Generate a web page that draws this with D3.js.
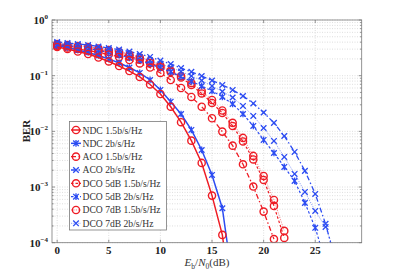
<!DOCTYPE html>
<html><head><meta charset="utf-8">
<script src="https://cdn.jsdelivr.net/npm/d3@7"></script>
<style>
html,body{margin:0;padding:0;background:#fff;}
svg{display:block;}
text{font-family:"Liberation Serif","DejaVu Serif",serif;}
</style></head>
<body>
<script>
// ---- data ----
const ebn0 = [0,1,2,3,4,5,6,7,8,9,10,11,12,13,14,15,16,17,18,19,20,21,22,23,24,25,26,27];
const ndc15 = [0.328,0.302,0.272,0.245,0.212,0.180,0.149,0.121,0.0948,0.0695,0.0469,0.0277,0.0146,0.00681,0.00271,0.000701,0.000138,6e-6];
const ndc2 = [0.348,0.321,0.289,0.261,0.231,0.200,0.169,0.140,0.112,0.0837,0.0554,0.0341,0.0205,0.0106,0.00463,0.00165,0.000416,2e-5];
const aco15 = [0.341,0.321,0.302,0.283,0.261,0.240,0.217,0.191,0.166,0.140,0.112,0.0837,0.0601,0.0415,0.0277,0.0172,0.00989,0.00554,0.00256,0.00102,0.000362,0.000116];
const aco2 = [0.403,0.386,0.371,0.356,0.334,0.314,0.295,0.272,0.245,0.217,0.187,0.162,0.137,0.117,0.0988,0.0820,0.0681,0.0554,0.0432,0.0317,0.0218,0.0142,0.00826,0.00427,0.00195,0.000752,0.000218,4.5e-5];
const dco5_15 = [0.356,0.341,0.328,0.308,0.289,0.266,0.245,0.221,0.195,0.169,0.143,0.117,0.0929,0.0681,0.0479,0.0324,0.0214,0.0125,0.00659,0.00313,0.00134,0.000458,0.000122];
const dco5_2 = [0.363,0.348,0.328,0.308,0.283,0.261,0.235,0.208,0.187,0.162,0.137,0.117,0.0968,0.0787,0.0653,0.0531,0.0415,0.0310,0.0205,0.0125,0.00701,0.00409,0.00230,0.00129,0.000519,0.000185,4.5e-5];
const dco7_15 = [0.371,0.356,0.341,0.328,0.308,0.289,0.266,0.240,0.212,0.184,0.152,0.124,0.0988,0.0740,0.0531,0.0366,0.0237,0.0142,0.00762,0.00362,0.00158,0.000586,0.000163];
const dco7_2 = [0.386,0.371,0.356,0.334,0.314,0.295,0.272,0.245,0.217,0.187,0.162,0.140,0.119,0.0988,0.0820,0.0653,0.0520,0.0406,0.0286,0.0189,0.0115,0.00673,0.00347,0.00172,0.000817,0.000372,0.000192,5.8e-5];
const xTicks = [0,5,10,15,20,25];
const yTickExps = [0,-1,-2,-3,-4];
const legendLabels = ["NDC 1.5b/s/Hz","NDC 2b/s/Hz","ACO 1.5b/s/Hz","ACO 2b/s/Hz","DCO 5dB 1.5b/s/Hz","DCO 5dB 2b/s/Hz","DCO 7dB 1.5b/s/Hz","DCO 7dB 2b/s/Hz"];

const RED = "#ee1c25", BLUE = "#2c4cf2";
const series = [
  {name:legendLabels[0], data:ndc15, color:RED, marker:"o", dash:null, w:1.5},
  {name:legendLabels[1], data:ndc2, color:BLUE, marker:"*", dash:null, w:1.5},
  {name:legendLabels[2], data:aco15, color:RED, marker:"o", dash:"5,2.5,1.5,2.5", w:1.3},
  {name:legendLabels[3], data:aco2, color:BLUE, marker:"x", dash:"5,2.5,1.5,2.5", w:1.3},
  {name:legendLabels[4], data:dco5_15, color:RED, marker:"o", dash:"2.5,2", w:1.2},
  {name:legendLabels[5], data:dco5_2, color:BLUE, marker:"*", dash:"2.5,2", w:1.2},
  {name:legendLabels[6], data:dco7_15, color:RED, marker:"o", dash:"1.2,1.2", w:0.7},
  {name:legendLabels[7], data:dco7_2, color:BLUE, marker:"x", dash:"1.2,1.2", w:0.7}
];

const W = 399, H = 273;
const svg = d3.select("body").append("svg").attr("width", W).attr("height", H);
const L = 52, R = 361.7, T = 20, B = 242.7;
const x = d3.scaleLinear().domain([-0.5, 29.5]).range([L, R]);
const y = d3.scaleLog().domain([1e-4, 1]).range([B, T]);

// grid
const grid = svg.append("g").attr("stroke", "#c8c8c8").attr("stroke-width", 0.6).attr("stroke-dasharray", "1,1.5");
xTicks.concat([]).forEach(t => {
  grid.append("line").attr("x1", x(t)).attr("x2", x(t)).attr("y1", T).attr("y2", B);
});
const yMinor = [];
for (let e = -4; e < 0; e++) for (let m = 1; m <= 9; m++) yMinor.push(m * Math.pow(10, e));
yMinor.push(1);
yMinor.forEach(v => {
  grid.append("line").attr("x1", L).attr("x2", R).attr("y1", y(v)).attr("y2", y(v));
});

// clip
svg.append("clipPath").attr("id", "clip").append("rect").attr("x", L).attr("y", T).attr("width", R - L).attr("height", B - T);

const plot = svg.append("g").attr("clip-path", "url(#clip)");
const line = d3.line().x((d, i) => x(ebn0[i])).y(d => y(d));

function drawMarker(g, type, cx, cy, color, sw) {
  if (type === "o") {
    g.append("circle").attr("cx", cx).attr("cy", cy).attr("r", 3.6).attr("fill", "none").attr("stroke", color).attr("stroke-width", 1.4);
  } else {
    const s = 2.8;
    const p = `M${cx - s},${cy - s}L${cx + s},${cy + s}M${cx - s},${cy + s}L${cx + s},${cy - s}` + (type === "*" ? `M${cx},${cy - s * 1.2}L${cx},${cy + s * 1.2}` : "");
    g.append("path").attr("d", p).attr("stroke", color).attr("stroke-width", 1.3).attr("fill", "none");
  }
}

// draw order: light ones first
[6, 7, 4, 5, 2, 3, 1, 0].forEach(k => {
  const s = series[k];
  plot.append("path").datum(s.data).attr("d", line).attr("fill", "none")
    .attr("stroke", s.color).attr("stroke-width", s.w)
    .attr("stroke-dasharray", s.dash).attr("opacity", k >= 6 ? 0.75 : 1);
  const mg = plot.append("g");
  s.data.forEach((v, i) => {
    const px = x(ebn0[i]), py = y(v);
    if (py <= B + 4) drawMarker(mg, s.marker, px, py, s.color);
  });
});

// axes box
const ax = svg.append("g").attr("stroke", "#7a7a7a").attr("stroke-width", 0.8).attr("fill", "none");
ax.append("rect").attr("x", L).attr("y", T).attr("width", R - L).attr("height", B - T);
// ticks
xTicks.forEach(t => {
  ax.append("line").attr("x1", x(t)).attr("x2", x(t)).attr("y1", B).attr("y2", B - 3);
  ax.append("line").attr("x1", x(t)).attr("x2", x(t)).attr("y1", T).attr("y2", T + 3);
});
yMinor.forEach(v => {
  const major = Math.abs(Math.log10(v) - Math.round(Math.log10(v))) < 1e-9;
  const len = major ? 3 : 1.6;
  ax.append("line").attr("x1", L).attr("x2", L + len).attr("y1", y(v)).attr("y2", y(v));
  ax.append("line").attr("x1", R).attr("x2", R - len).attr("y1", y(v)).attr("y2", y(v));
});

// tick labels
const tl = svg.append("g").attr("font-weight", "bold").attr("fill", "#222");
xTicks.forEach(t => {
  tl.append("text").attr("x", x(t)).attr("y", 254).attr("text-anchor", "middle").attr("font-size", 11).text(t);
});
yTickExps.forEach(e => {
  const t = tl.append("text").attr("x", 48).attr("y", y(Math.pow(10, e)) + 4).attr("text-anchor", "end").attr("font-size", 11);
  t.append("tspan").text("10");
  t.append("tspan").attr("dy", -5).attr("font-size", 7).text(e === 0 ? "0" : "\u2212" + (-e));
});

// axis labels
svg.append("text").attr("transform", "translate(30,131) rotate(-90)").attr("text-anchor", "middle")
  .attr("font-size", 11).attr("font-weight", "bold").attr("fill", "#222").text("BER");
const xl = svg.append("text").attr("x", 207).attr("y", 266).attr("text-anchor", "middle").attr("font-size", 11).attr("fill", "#333");
xl.append("tspan").attr("font-style", "italic").text("E");
xl.append("tspan").attr("font-size", 7.5).attr("dy", 2.5).text("b");
xl.append("tspan").attr("dy", -2.5).text("/");
xl.append("tspan").attr("font-style", "italic").text("N");
xl.append("tspan").attr("font-size", 7.5).attr("dy", 2.5).text("0");
xl.append("tspan").attr("dy", -2.5).text("(dB)");

// legend
const lg = svg.append("g");
lg.append("rect").attr("x", 69.5).attr("y", 121.5).attr("width", 97).attr("height", 108.5)
  .attr("fill", "#fff").attr("stroke", "#7a7a7a").attr("stroke-width", 0.8);
series.forEach((s, i) => {
  const yy = 130 + i * 13.33;
  lg.append("line").attr("x1", 71).attr("x2", 81).attr("y1", yy).attr("y2", yy)
    .attr("stroke", s.color).attr("stroke-width", s.w).attr("stroke-dasharray", s.dash).attr("opacity", i >= 6 ? 0.75 : 1);
  drawMarker(lg, s.marker, 76, yy, s.color);
  lg.append("text").attr("x", 82.5).attr("y", yy + 3.5).attr("font-size", 9.6).attr("fill", "#333").text(s.name);
});
</script>
</body></html>
